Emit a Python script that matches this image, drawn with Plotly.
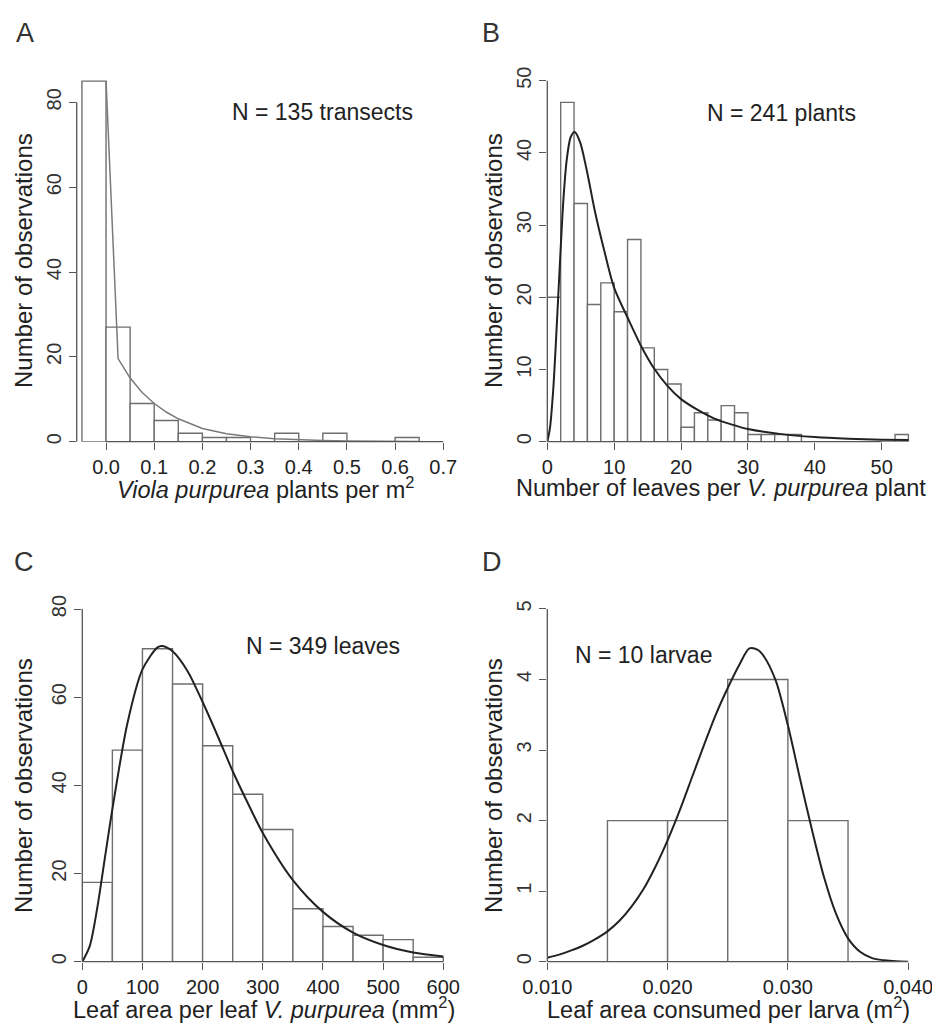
import plotly.graph_objects as go
import numpy as np

# target picture size and the page's default body margin (the figure div sits 8px in)
W, H = 940, 1035
OFF = 8
FW, FH = W - OFF, H - OFF

# ---------------- data ----------------
# Panel A: Viola purpurea plants per m2
a_bin_left = [-0.05, 0.00, 0.05, 0.10, 0.15, 0.20, 0.25, 0.30, 0.35, 0.40, 0.45, 0.50, 0.55, 0.60]
a_bin_width = 0.05
a_counts = [85, 27, 9, 5, 2, 1, 1, 0, 2, 0, 2, 0, 0, 1]
a_curve_x = [0.0, 0.025, 0.05, 0.075, 0.10, 0.125, 0.15, 0.175, 0.20, 0.25, 0.30, 0.35, 0.40, 0.45, 0.50, 0.55, 0.60, 0.65]
a_curve_y = [85, 19.6, 15.0, 11.6, 9.0, 7.0, 5.4, 4.2, 3.1, 1.9, 1.15, 0.7, 0.42, 0.26, 0.16, 0.1, 0.06, 0.04]
a_xticks = [0.0, 0.1, 0.2, 0.3, 0.4, 0.5, 0.6, 0.7]
a_yticks = [0, 20, 40, 60, 80]

# Panel B: number of leaves per plant
b_bin_left = list(range(0, 54, 2))
b_bin_width = 2
b_counts = [20, 47, 33, 19, 22, 18, 28, 13, 10, 8, 2, 4, 3, 5, 4, 1, 1, 1, 1, 0, 0, 0, 0, 0, 0, 0, 1]
b_curve_x = [0, 0.4, 0.9, 1.4, 1.9, 2.4, 2.9, 3.5, 4.1, 4.9, 5.9, 7.1, 8.4, 10, 12, 14, 16, 18, 20,
             22.5, 25, 27.5, 30, 35, 40, 45, 50, 54]
b_curve_y = [0, 1.9, 7.4, 15.8, 25, 33.4, 39, 42.2, 42.9, 41.5, 37.6, 32, 26.9, 21.3, 17.2, 13.3, 10.1, 7.7, 5.9,
             4.4, 3.2, 2.4, 1.75, 1.05, 0.65, 0.42, 0.28, 0.22]
b_xticks = [0, 10, 20, 30, 40, 50]
b_yticks = [0, 10, 20, 30, 40, 50]

# Panel C: leaf area per leaf (mm2)
c_bin_left = [0, 50, 100, 150, 200, 250, 300, 350, 400, 450, 500, 550]
c_bin_width = 50
c_counts = [18, 48, 71, 63, 49, 38, 30, 12, 8, 6, 5, 1]
c_curve_x = [0, 12.5, 25, 37.5, 50, 75, 100, 125, 133, 150, 175, 200, 225, 250, 275, 300, 350, 400, 450, 500, 550, 600]
c_curve_y = [0, 3.6, 12.3, 23.5, 34.6, 54.1, 66.3, 71.3, 71.6, 70.4, 65.9, 58.9, 51.2, 43.2, 36.0, 29.2, 18.5, 11.3, 6.6, 3.8, 2.1, 1.2]
c_xticks = [0, 100, 200, 300, 400, 500, 600]
c_yticks = [0, 20, 40, 60, 80]

# Panel D: leaf area consumed per larva (m2)
d_bin_left = [0.015, 0.020, 0.025, 0.030]
d_bin_width = 0.005
d_counts = [2, 2, 4, 2]
d_curve_x = [0.010, 0.011, 0.012, 0.013, 0.014, 0.015, 0.016, 0.017, 0.018, 0.019, 0.020,
             0.021, 0.022, 0.023, 0.024, 0.025, 0.026, 0.0268, 0.0275, 0.028, 0.029, 0.030,
             0.031, 0.032, 0.033, 0.034, 0.035, 0.036, 0.037, 0.038, 0.039, 0.040]
d_curve_y = [0.056, 0.10, 0.16, 0.23, 0.32, 0.43, 0.58, 0.78, 1.03, 1.35, 1.72,
             2.14, 2.60, 3.06, 3.50, 3.88, 4.22, 4.44, 4.42, 4.33, 3.98, 3.35,
             2.60, 1.87, 1.20, 0.68, 0.33, 0.14, 0.05, 0.02, 0.005, 0.0]
d_xticks = [0.010, 0.020, 0.030, 0.040]
d_yticks = [0, 1, 2, 3, 4, 5]

# ---------------- styling ----------------
FONT = "Liberation Sans, Arial, sans-serif"
TXT = "#222222"
AX = "#555555"
BAR_LINE = "#6e6e6e"

def px_x(p):
    return (p - OFF) / FW

def px_y(p):
    return 1 - (p - OFF) / FH

# panel boxes in target-picture pixels + axis ranges
panels = {
    1: dict(l=76.7, r=452.9, t=72.6, b=441.7, xr=[-0.0609, 0.72], yr=[0, 87]),
    2: dict(l=547.3, r=915.1, t=73.5, b=441.7, xr=[0, 55], yr=[0, 51]),
    3: dict(l=82.3, r=449.3, t=600.2, b=961.7, xr=[0, 610], yr=[0, 82]),
    4: dict(l=547.3, r=920.2, t=601.9, b=961.7, xr=[0.010, 0.041], yr=[0, 5.1]),
}

data = {
    1: (a_bin_left, a_bin_width, a_counts, a_curve_x, a_curve_y, a_xticks, a_yticks, ".1f", "#7a7a7a", 1.5, "linear"),
    2: (b_bin_left, b_bin_width, b_counts, b_curve_x, b_curve_y, b_xticks, b_yticks, "d", "#222222", 2.0, "spline"),
    3: (c_bin_left, c_bin_width, c_counts, c_curve_x, c_curve_y, c_xticks, c_yticks, "d", "#222222", 2.0, "spline"),
    4: (d_bin_left, d_bin_width, d_counts, d_curve_x, d_curve_y, d_xticks, d_yticks, ".3f", "#222222", 2.0, "spline"),
}

fig = go.Figure()
shapes = []
layout_axes = {}

for k in [1, 2, 3, 4]:
    p = panels[k]
    left, width, counts, cx, cy, xt, yt, xfmt, ccol, cw, shape = data[k]
    sfx = "" if k == 1 else str(k)
    xa, ya = "x" + sfx, "y" + sfx
    centers = np.array(left, dtype=float) + width / 2.0
    fig.add_trace(go.Bar(
        x=centers, y=counts, width=width, xaxis=xa, yaxis=ya,
        marker=dict(color="white", line=dict(color=BAR_LINE, width=1.4)),
        showlegend=False, hoverinfo="x+y"))
    line = dict(color=ccol, width=cw, shape=shape)
    if shape == "spline":
        line["smoothing"] = 0.8
    fig.add_trace(go.Scatter(
        x=cx, y=cy, mode="lines", xaxis=xa, yaxis=ya,
        line=line, showlegend=False, hoverinfo="skip"))

    if xfmt == "d":
        xtext = [str(int(v)) for v in xt]
    else:
        xtext = [format(v, xfmt) for v in xt]

    layout_axes["xaxis" + sfx] = dict(
        domain=[px_x(p["l"]), px_x(p["r"])], range=p["xr"], anchor=ya,
        showgrid=False, zeroline=False, showline=False, automargin=False,
        ticks="outside", ticklen=7, tickwidth=1.3, tickcolor=AX,
        tickvals=xt, ticktext=xtext,
        tickfont=dict(family=FONT, size=20, color=TXT))
    layout_axes["yaxis" + sfx] = dict(
        domain=[px_y(p["b"]), px_y(p["t"])], range=p["yr"], anchor=xa,
        showgrid=False, zeroline=False, showline=False, automargin=False,
        ticks="outside", ticklen=7, tickwidth=1.3, tickcolor=AX,
        tickvals=yt, ticktext=[str(v) for v in yt], tickangle=-90,
        tickfont=dict(family=FONT, size=20, color="#333333"))

    # R-style axis lines spanning first to last tick
    shapes.append(dict(type="line", xref=xa, yref=ya + " domain", x0=xt[0], x1=xt[-1], y0=0, y1=0,
                       line=dict(color=AX, width=1.3)))
    shapes.append(dict(type="line", xref=xa + " domain", yref=ya, x0=0, x1=0, y0=yt[0], y1=yt[-1],
                       line=dict(color=AX, width=1.3)))

annotations = []

def ann(text, x, y, size, angle=0, color=TXT):
    annotations.append(dict(text=text, x=px_x(x), y=px_y(y), xref="paper", yref="paper",
                            showarrow=False, xanchor="center", yanchor="middle", textangle=angle,
                            font=dict(family=FONT, size=size, color=color)))

# panel letters
ann("A", 25, 33, 27, color="#333333")
ann("B", 491, 33, 27, color="#333333")
ann("C", 24, 562, 27, color="#333333")
ann("D", 492, 562, 27, color="#333333")

# N annotations
ann("N = 135 transects", 322, 112, 23)
ann("N = 241 plants", 781, 113, 23)
ann("N = 349 leaves", 323, 646, 23)
ann("N = 10 larvae", 643, 655, 23)

# y titles
ann("Number of observations", 23, 261, 24, angle=-90)
ann("Number of observations", 493, 261, 24, angle=-90)
ann("Number of observations", 23, 786, 24, angle=-90)
ann("Number of observations", 493, 786, 24, angle=-90)

# x titles
ann("<i>Viola purpurea</i> plants per m<sup>2</sup>", 265, 488, 23.5)
ann("Number of leaves per <i>V. purpurea</i> plant", 721, 488, 23.5)
ann("Leaf area per leaf <i>V. purpurea</i> (mm<sup>2</sup>)", 264, 1008, 23.5)
ann("Leaf area consumed per larva (m<sup>2</sup>)", 728, 1008, 23.5)

fig.update_layout(
    width=FW, height=FH, margin=dict(l=0, r=0, t=0, b=0, pad=0, autoexpand=False),
    paper_bgcolor="white", plot_bgcolor="white",
    showlegend=False, barmode="overlay",
    shapes=shapes, annotations=annotations,
    font=dict(family=FONT, color=TXT),
    **layout_axes)

fig.write_html("out.html")
